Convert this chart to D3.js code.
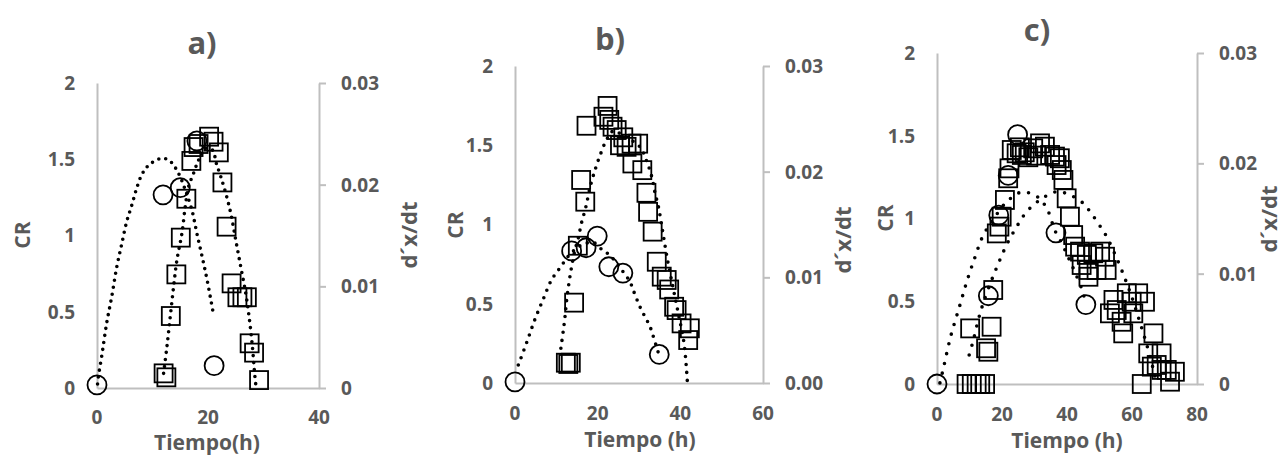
<!DOCTYPE html>
<html>
<head>
<meta charset="utf-8">
<script src="https://cdn.jsdelivr.net/npm/d3@7"></script>
<style>
  body { margin: 0; background: #fff; }
  text { font-family: "Open Sans", Lato, sans-serif; font-weight: bold; fill: #595959; }
</style>
</head>
<body>
<svg id="chart" width="1283" height="456"></svg>
<script>
// ---- data: [tiempo (h), valor] ----
// panel a
const aSquares = [[12.0,0.096],[12.5,0.07],[13.3,0.472],[14.3,0.745],[15.1,0.986],[16.1,1.241],[17.0,1.489],[17.4,1.58],
  [18.3,1.60],[20.2,1.648],[21.0,1.615],[21.95,1.545],[22.6,1.348],[23.35,1.058],[24.25,0.686],[25.3,0.595],[26.2,0.595],
  [27.0,0.595],[27.5,0.293],[28.3,0.232],[29.2,0.052]];
const aCircles = [[0,0.0003],[11.9,0.019],[15.0,0.0197],[18.0,0.0243],[21.1,0.0022]];
const aFitCR = [[12.0,0.096],[12.6,0.271],[13.2,0.468],[13.8,0.664],[14.4,0.839],[15.3,1.014],[15.9,1.189],[16.5,1.32],
  [17.4,1.408],[18.3,1.495],[19.5,1.57],[20.8,1.56],[21.5,1.473],[22.3,1.386],[23.2,1.277],[24.1,1.146],[25.0,0.97],
  [25.9,0.795],[26.8,0.621],[27.4,0.468],[28.0,0.271],[28.4,0.096],[28.65,0.009]];
const aFitRate = [[0.1,0.0004],[0.24,0.0011],[0.84,0.0031],[1.75,0.0064],[2.66,0.009],[3.56,0.0119],[4.47,0.0142],
  [5.37,0.0164],[6.28,0.018],[7.18,0.0197],[8.09,0.021],[9.29,0.0219],[11.7,0.0226],[13.2,0.0223],[14.7,0.0211],
  [15.9,0.0195],[17.1,0.0175],[18.0,0.0152],[18.95,0.0129],[19.85,0.0106],[20.9,0.0075]];

// panel b
const bSquares = [[12.3,0.128],[12.9,0.12],[13.5,0.128],[14.3,0.507],[15.2,0.866],[17.0,1.144],[16.0,1.281],[17.3,1.623],
  [21.4,1.68],[22.4,1.748],[23.6,1.617],[24.6,1.596],[25.4,1.50],[27.0,1.49],[28.2,1.51],[29.8,1.51],[28.4,1.385],
  [30.8,1.343],[31.8,1.20],[32.2,1.08],[33.3,0.955],[34.3,0.765],[35.5,0.671],[36.7,0.65],[37.3,0.59],[38.5,0.481],
  [39.1,0.46],[40.3,0.376],[42.3,0.345],[41.9,0.271],[22.8,1.66],[26.2,1.55]];
const bCircles = [[0,0.0001],[13.7,0.0125],[17.2,0.0128],[19.9,0.0139],[22.7,0.011],[26.1,0.0104],[34.9,0.0027]];
const bFitCR = [[11.1,0.219],[11.7,0.334],[12.1,0.418],[12.5,0.524],[13.1,0.639],[13.7,0.734],[14.5,0.839],[15.3,0.913],
  [16.1,1.011],[17.1,1.106],[18.3,1.249],[19.5,1.355],[20.7,1.445],[22.2,1.537],[23.8,1.59],[26.2,1.56],[30.2,1.49],
  [31.9,1.396],[33.1,1.30],[33.9,1.197],[34.7,1.112],[35.8,0.945],[36.9,0.776],[38.2,0.607],[39.5,0.44],[40.9,0.25],
  [41.7,0.008]];
const bFitRate = [[0.8,0.0017],[2.8,0.0038],[4.8,0.006],[6.9,0.008],[8.9,0.0098],[10.9,0.0109],[12.9,0.012],[15.0,0.0128],
  [17.0,0.0132],[19.0,0.0133],[21.1,0.0126],[22.6,0.0122],[24.5,0.0114],[26.2,0.0105],[27.8,0.0096],[28.6,0.0088],
  [29.7,0.0077],[30.6,0.0069],[31.7,0.0061],[32.7,0.0053],[33.7,0.0041],[34.8,0.0027]];

// panel c
const cSquares = [[9.1,0],[10.7,0],[12.2,0],[13.3,0],[14.8,0],[10.2,0.336],[16.8,0.346],[15.1,0.216],[15.8,0.195],
  [17.3,0.568],[18.4,0.91],[19.2,0.951],[19.9,1.011],[20.9,1.112],[21.9,1.243],[22.3,1.303],[23.0,1.414],[24.5,1.394],
  [26.1,1.384],[28.1,1.37],[29.6,1.424],[31.7,1.454],[33.2,1.434],[34.8,1.384],[36.3,1.374],[37.8,1.364],[36.8,1.323],
  [38.4,1.293],[38.9,1.233],[39.9,1.122],[40.9,1.011],[41.9,0.90],[42.5,0.83],[44.0,0.80],[46.1,0.78],[48.1,0.79],
  [50.2,0.80],[51.7,0.769],[44.5,0.719],[46.6,0.689],[46.6,0.648],[49.1,0.689],[52.2,0.689],[54.3,0.508],[53.2,0.427],
  [55.3,0.447],[56.8,0.376],[57.3,0.306],[58.4,0.548],[59.9,0.497],[60.4,0.427],[61.9,0.548],[64.0,0.497],[66.6,0.306],
  [65.0,0.185],[66.1,0.105],[67.6,0.115],[69.1,0.085],[70.7,0.085],[73.2,0.074],[71.7,0.014],[63.0,0.0],[69.1,0.185],
  [27.0,1.40],[30.5,1.38],[25.5,1.43]];
const cCircles = [[0,0],[15.8,0.008],[19.0,0.0153],[21.9,0.0189],[24.8,0.0226],[36.6,0.0137],[45.8,0.0072]];
const cFitCR = [[9.9,0.175],[11.2,0.266],[12.7,0.387],[14.2,0.487],[16.8,0.628],[18.9,0.729],[21.4,0.84],[24.5,0.95],
  [27.6,1.041],[31.7,1.112],[36.8,1.162],[40.9,1.142],[45.0,1.092],[47.1,1.041],[49.6,0.971],[52.2,0.89],[55.3,0.76],
  [57.8,0.639],[59.9,0.528],[61.9,0.407],[63.5,0.306],[65.0,0.205],[66.6,0.085],[67.6,0.004]];
const cFitRate = [[0.9,0.0001],[1.95,0.0014],[4.2,0.0043],[6.9,0.007],[9.3,0.0094],[11.7,0.0115],[14.1,0.0134],
  [17.3,0.0149],[21.4,0.0165],[26.1,0.0174],[30.7,0.017],[32.5,0.0165],[34.3,0.0156],[36.3,0.0139],[38.5,0.0127],
  [40.5,0.0114],[42.5,0.0101],[44.8,0.0084],[45.5,0.0076]];

// ticks
const crTicks = [0, 0.5, 1, 1.5, 2];
const rateTicks = [0, 0.01, 0.02, 0.03];
const rateLabelsA = ["0", "0.01", "0.02", "0.03"];
const rateLabelsB = ["0.00", "0.01", "0.02", "0.03"];
const rateLabelsC = ["0", "0.01", "0.02", "0.03"];
const xTicksA = [0, 20, 40];
const xTicksB = [0, 20, 40, 60];
const xTicksC = [0, 20, 40, 60, 80];

const panels = [
  { title: "a)", xlab: "Tiempo(h)", xMax: 40, xTicks: xTicksA, rateLabels: rateLabelsA,
    squares: aSquares, circles: aCircles, fitCR: aFitCR, fitRate: aFitRate,
    left: 97, right: 319, top: 83, bottom: 388, dash: "0 7",
    titlePos: [202, 54], xlabPos: [207, 450], tickY: 424, crPos: [22, 235], ratePos: [409, 235] },
  { title: "b)", xlab: "Tiempo (h)", xMax: 60, xTicks: xTicksB, rateLabels: rateLabelsB,
    squares: bSquares, circles: bCircles, fitCR: bFitCR, fitRate: bFitRate,
    left: 515, right: 763, top: 66, bottom: 383, dash: "0 8",
    titlePos: [610, 50], xlabPos: [640, 447], tickY: 420, crPos: [455, 225], ratePos: [843, 240] },
  { title: "c)", xlab: "Tiempo (h)", xMax: 80, xTicks: xTicksC, rateLabels: rateLabelsC,
    squares: cSquares, circles: cCircles, fitCR: cFitCR, fitRate: cFitRate,
    left: 937, right: 1197, top: 53, bottom: 384, dash: "0 10",
    titlePos: [1037, 41], xlabPos: [1067, 448], tickY: 421, crPos: [885, 218], ratePos: [1269, 219] }
];

const svg = d3.select("#chart");
const axisColor = "#bfbfbf";

panels.forEach(p => {
  const x = d3.scaleLinear().domain([0, p.xMax]).range([p.left, p.right]);
  const yL = d3.scaleLinear().domain([0, 2]).range([p.bottom, p.top]);
  const yR = d3.scaleLinear().domain([0, 0.03]).range([p.bottom, p.top]);
  const g = svg.append("g");

  // ejes
  const gx = g.append("g").attr("transform", `translate(0,${p.bottom})`)
    .call(d3.axisBottom(x).tickValues(p.xTicks).tickSize(0).tickFormat(""));
  gx.select(".domain").attr("stroke", axisColor).attr("stroke-width", 2);
  const gl = g.append("g").attr("transform", `translate(${p.left},0)`)
    .call(d3.axisLeft(yL).tickValues(crTicks).tickSize(0).tickFormat(""));
  gl.select(".domain").attr("stroke", axisColor).attr("stroke-width", 2);
  const gr = g.append("g").attr("transform", `translate(${p.right},0)`)
    .call(d3.axisRight(yR).tickValues(rateTicks).tickSizeInner(7).tickSizeOuter(0).tickFormat(""));
  gr.select(".domain").attr("stroke", axisColor).attr("stroke-width", 2);
  gr.selectAll(".tick line").attr("stroke", axisColor).attr("stroke-width", 2);

  // etiquetas
  g.selectAll(".xl").data(p.xTicks).join("text")
    .attr("x", d => x(d)).attr("y", p.tickY).attr("text-anchor", "middle")
    .style("font-size", "19px").text(d => d);
  g.selectAll(".yl").data(crTicks).join("text")
    .attr("x", p.left - 22).attr("y", d => yL(d)).attr("dy", "0.36em").attr("text-anchor", "end")
    .style("font-size", "19px").text(d => d);
  g.selectAll(".yr").data(rateTicks).join("text")
    .attr("x", p.right + 22).attr("y", d => yR(d)).attr("dy", "0.36em").attr("text-anchor", "start")
    .style("font-size", "19px").text((d, i) => p.rateLabels[i]);

  g.append("text").attr("x", p.titlePos[0]).attr("y", p.titlePos[1]).attr("text-anchor", "middle")
    .style("font-size", "31px").text(p.title);
  g.append("text").attr("x", p.xlabPos[0]).attr("y", p.xlabPos[1]).attr("text-anchor", "middle")
    .style("font-size", "21px").text(p.xlab);
  g.append("text").attr("transform", `translate(${p.crPos[0]},${p.crPos[1]}) rotate(-90)`)
    .attr("text-anchor", "middle").attr("dy", "0.36em").style("font-size", "21px").text("CR");
  g.append("text").attr("transform", `translate(${p.ratePos[0]},${p.ratePos[1]}) rotate(-90)`)
    .attr("text-anchor", "middle").attr("dy", "0.36em").style("font-size", "22px").text("d´x/dt");

  // ajustes punteados
  const lineCR = d3.line().x(d => x(d[0])).y(d => yL(d[1])).curve(d3.curveCatmullRom);
  const lineRate = d3.line().x(d => x(d[0])).y(d => yR(d[1])).curve(d3.curveCatmullRom);
  [[p.fitCR, lineCR], [p.fitRate, lineRate]].forEach(([data, gen]) => {
    g.append("path").datum(data).attr("d", gen)
      .attr("fill", "none").attr("stroke", "#000").attr("stroke-width", 3.6)
      .attr("stroke-linecap", "round").attr("stroke-dasharray", p.dash);
  });

  // marcadores
  const s = 18;
  g.selectAll(".sq").data(p.squares).join("rect")
    .attr("x", d => x(d[0]) - s / 2).attr("y", d => yL(d[1]) - s / 2)
    .attr("width", s).attr("height", s)
    .attr("fill", "none").attr("stroke", "#000").attr("stroke-width", 1.8);
  g.selectAll(".ci").data(p.circles).join("circle")
    .attr("cx", d => x(d[0])).attr("cy", d => yR(d[1])).attr("r", 9.5)
    .attr("fill", "none").attr("stroke", "#000").attr("stroke-width", 1.8);
});
</script>
</body>
</html>
